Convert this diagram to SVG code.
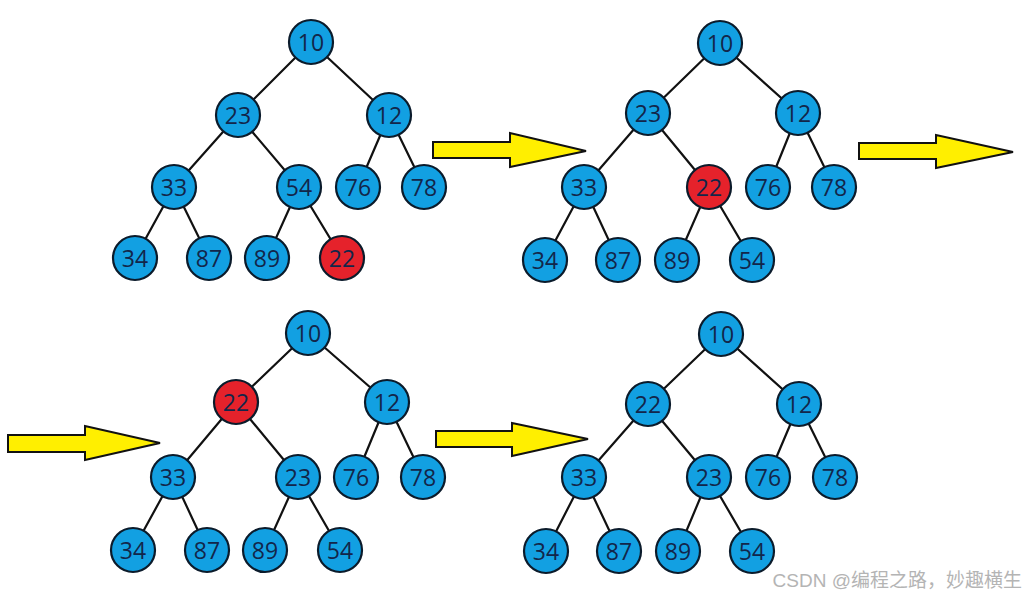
<svg xmlns="http://www.w3.org/2000/svg" width="1029" height="597" viewBox="0 0 1029 597">
<style>
.e{stroke:#111;stroke-width:2.2;fill:none}
.n circle{fill:#12a0e2;stroke:#0b1b2b;stroke-width:2.2}
.n.r circle{fill:#e5222b}
.n text{font-family:"Open Sans","Noto Sans",sans-serif;font-size:23px;fill:#12264a;text-anchor:middle;dominant-baseline:central}
.a{fill:#ffef00;stroke:#111;stroke-width:2;stroke-linejoin:miter}
.wm{font-family:"Liberation Sans","Noto Sans CJK SC",sans-serif;font-size:19px;fill:#b4b4b4;text-anchor:end}
</style>
<rect width="1029" height="597" fill="#fff"/>
<g id="connectors">
<path class="e" d="M311,42L238,115M311,42L389,115M238,115L174,187M238,115L299,187M389,115L358,187M389,115L424,187M174,187L135,258M174,187L209,258M299,187L267,258M299,187L342,258"/>
<path class="e" d="M720,43L648,113M720,43L798,113M648,113L584,187M648,113L709,187M798,113L768,187M798,113L834,187M584,187L545,260M584,187L618,260M709,187L677,260M709,187L752,260"/>
<path class="e" d="M308,333L236,402M308,333L387,402M236,402L173,477M236,402L298,477M387,402L356,477M387,402L423,477M173,477L133,550M173,477L207,550M298,477L265,550M298,477L340,550"/>
<path class="e" d="M721,334L648,404M721,334L799,404M648,404L584,477M648,404L709,477M799,404L768,477M799,404L835,477M584,477L546,551M584,477L619,551M709,477L678,551M709,477L752,551"/>
<path id="arrow1" class="a" d="M433,142H510V133L586,151L510,167V158H433Z"/>
<path id="arrow2" class="a" d="M859,143H936V135L1013,152L936,168V159H859Z"/>
<path id="arrow3" class="a" d="M8,435H85V426L160,443L85,460V452H8Z"/>
<path id="arrow4" class="a" d="M436,431H512V423L588,439L512,456V447H436Z"/>
</g>
<g id="t1n10" class="n"><circle cx="311" cy="42" r="22"/><text x="311" y="42">10</text></g>
<g id="t1n23" class="n"><circle cx="238" cy="115" r="22"/><text x="238" y="115">23</text></g>
<g id="t1n12" class="n"><circle cx="389" cy="115" r="22"/><text x="389" y="115">12</text></g>
<g id="t1n33" class="n"><circle cx="174" cy="187" r="22"/><text x="174" y="187">33</text></g>
<g id="t1n54" class="n"><circle cx="299" cy="187" r="22"/><text x="299" y="187">54</text></g>
<g id="t1n76" class="n"><circle cx="358" cy="187" r="22"/><text x="358" y="187">76</text></g>
<g id="t1n78" class="n"><circle cx="424" cy="187" r="22"/><text x="424" y="187">78</text></g>
<g id="t1n34" class="n"><circle cx="135" cy="258" r="22"/><text x="135" y="258">34</text></g>
<g id="t1n87" class="n"><circle cx="209" cy="258" r="22"/><text x="209" y="258">87</text></g>
<g id="t1n89" class="n"><circle cx="267" cy="258" r="22"/><text x="267" y="258">89</text></g>
<g id="t1n22" class="n r"><circle cx="342" cy="258" r="22"/><text x="342" y="258">22</text></g>
<g id="t2n10" class="n"><circle cx="720" cy="43" r="22"/><text x="720" y="43">10</text></g>
<g id="t2n23" class="n"><circle cx="648" cy="113" r="22"/><text x="648" y="113">23</text></g>
<g id="t2n12" class="n"><circle cx="798" cy="113" r="22"/><text x="798" y="113">12</text></g>
<g id="t2n33" class="n"><circle cx="584" cy="187" r="22"/><text x="584" y="187">33</text></g>
<g id="t2n22" class="n r"><circle cx="709" cy="187" r="22"/><text x="709" y="187">22</text></g>
<g id="t2n76" class="n"><circle cx="768" cy="187" r="22"/><text x="768" y="187">76</text></g>
<g id="t2n78" class="n"><circle cx="834" cy="187" r="22"/><text x="834" y="187">78</text></g>
<g id="t2n34" class="n"><circle cx="545" cy="260" r="22"/><text x="545" y="260">34</text></g>
<g id="t2n87" class="n"><circle cx="618" cy="260" r="22"/><text x="618" y="260">87</text></g>
<g id="t2n89" class="n"><circle cx="677" cy="260" r="22"/><text x="677" y="260">89</text></g>
<g id="t2n54" class="n"><circle cx="752" cy="260" r="22"/><text x="752" y="260">54</text></g>
<g id="t3n10" class="n"><circle cx="308" cy="333" r="22"/><text x="308" y="333">10</text></g>
<g id="t3n22" class="n r"><circle cx="236" cy="402" r="22"/><text x="236" y="402">22</text></g>
<g id="t3n12" class="n"><circle cx="387" cy="402" r="22"/><text x="387" y="402">12</text></g>
<g id="t3n33" class="n"><circle cx="173" cy="477" r="22"/><text x="173" y="477">33</text></g>
<g id="t3n23" class="n"><circle cx="298" cy="477" r="22"/><text x="298" y="477">23</text></g>
<g id="t3n76" class="n"><circle cx="356" cy="477" r="22"/><text x="356" y="477">76</text></g>
<g id="t3n78" class="n"><circle cx="423" cy="477" r="22"/><text x="423" y="477">78</text></g>
<g id="t3n34" class="n"><circle cx="133" cy="550" r="22"/><text x="133" y="550">34</text></g>
<g id="t3n87" class="n"><circle cx="207" cy="550" r="22"/><text x="207" y="550">87</text></g>
<g id="t3n89" class="n"><circle cx="265" cy="550" r="22"/><text x="265" y="550">89</text></g>
<g id="t3n54" class="n"><circle cx="340" cy="550" r="22"/><text x="340" y="550">54</text></g>
<g id="t4n10" class="n"><circle cx="721" cy="334" r="22"/><text x="721" y="334">10</text></g>
<g id="t4n22" class="n"><circle cx="648" cy="404" r="22"/><text x="648" y="404">22</text></g>
<g id="t4n12" class="n"><circle cx="799" cy="404" r="22"/><text x="799" y="404">12</text></g>
<g id="t4n33" class="n"><circle cx="584" cy="477" r="22"/><text x="584" y="477">33</text></g>
<g id="t4n23" class="n"><circle cx="709" cy="477" r="22"/><text x="709" y="477">23</text></g>
<g id="t4n76" class="n"><circle cx="768" cy="477" r="22"/><text x="768" y="477">76</text></g>
<g id="t4n78" class="n"><circle cx="835" cy="477" r="22"/><text x="835" y="477">78</text></g>
<g id="t4n34" class="n"><circle cx="546" cy="551" r="22"/><text x="546" y="551">34</text></g>
<g id="t4n87" class="n"><circle cx="619" cy="551" r="22"/><text x="619" y="551">87</text></g>
<g id="t4n89" class="n"><circle cx="678" cy="551" r="22"/><text x="678" y="551">89</text></g>
<g id="t4n54" class="n"><circle cx="752" cy="551" r="22"/><text x="752" y="551">54</text></g>
<text class="wm" x="1022" y="587">CSDN @编程之路，妙趣横生</text>
</svg>
